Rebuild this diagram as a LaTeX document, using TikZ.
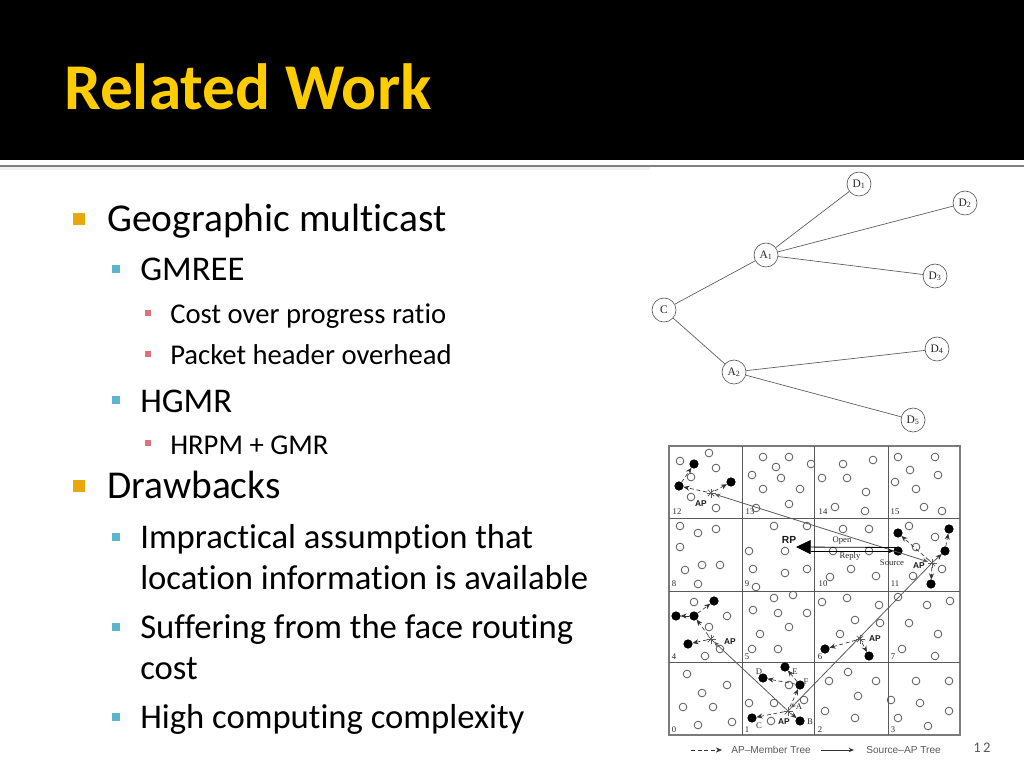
\documentclass[tikz,border=0pt]{standalone}
\usepackage{fontspec}
\setmainfont[Ligatures=NoCommon]{Carlito}
\newfontfamily\figserif{Liberation Serif}
\newfontfamily\figsans{Liberation Sans}
\usetikzlibrary{arrows.meta}
\definecolor{titlegold}{HTML}{FFCC00}
\definecolor{bulamber}{HTML}{E8A80C}
\definecolor{bulblue}{HTML}{5BB5CC}
\definecolor{bulpink}{HTML}{E0707C}
\definecolor{figgray}{HTML}{5A5A5A}
\tikzset{
  titletext/.style={anchor=base west,inner sep=0pt,text=titlegold,font=\fontsize{49}{58}\selectfont\bfseries},
  lvlone/.style={anchor=base west,inner sep=0pt,font=\fontsize{29.6}{34}\selectfont},
  lvltwo/.style={anchor=base west,inner sep=0pt,font=\fontsize{26}{30}\selectfont},
  lvlthree/.style={anchor=base west,inner sep=0pt,font=\fontsize{21.5}{26}\selectfont},
  bulone/.style={inner sep=0pt,minimum size=9pt,fill=bulamber},
  bultwo/.style={inner sep=0pt,minimum size=6.6pt,fill=bulblue},
  bulthree/.style={inner sep=0pt,minimum size=4.6pt,fill=bulpink},
  treenode/.style={circle,draw=figgray,line width=0.5pt,fill=white,inner sep=0pt,minimum size=18pt,
    text=black!85,font=\figserif\fontsize{8.6}{9}\selectfont},
  opencirc/.style={circle,draw=figgray,line width=0.6pt,inner sep=0pt,minimum size=5.8pt},
  member/.style={circle,fill=black,inner sep=0pt,minimum size=6.4pt},
  apnode/.style={circle,inner sep=0pt,minimum size=6pt},
  cellnum/.style={inner sep=0pt,text=black!85,font=\figserif\fontsize{6.5}{7}\selectfont},
  aplabel/.style={inner sep=0pt,text=black!90,font=\figsans\bfseries\fontsize{6.3}{7}\selectfont},
  memberarrow/.style={densely dashed,draw=black!80,line width=0.5pt,-{Stealth[length=4.6pt,width=3.8pt]}},
  sourcearrow/.style={draw=figgray,line width=0.6pt},
  legendtext/.style={anchor=west,inner sep=0pt,text=figgray,font=\figsans\fontsize{7.6}{9}\selectfont}
}
% Star mark of an access point
\newcommand{\apmark}[1]{
  \foreach \ang in {0,45,90,135}
    \draw[figgray,line width=0.6pt,dash pattern=on 1pt off 0.5pt] ([shift={(\ang:4.5)}]#1.center) -- ([shift={(\ang+180:4.5)}]#1.center);
}
\begin{document}
\begin{tikzpicture}[x=0.75pt,y=-0.75pt]
  \useasboundingbox (0,0) rectangle (1024,768);
  % Header band
  \fill[black] (0,0) rectangle (1024,160);
  \fill[black!5] (0,167) rectangle (650,170);
  \fill[black!50] (0,164.8) rectangle (1024,167.4);
  \node[titletext] (title) at (64,109) {Related Work};
  %
  % Bullets
  \node[bulone] (b1) at (79,219) {};
  \node[bultwo] (b2) at (116,269) {};
  \node[bulthree] (b3) at (148,313) {};
  \node[bulthree] (b4) at (148,354) {};
  \node[bultwo] (b5) at (116,400) {};
  \node[bulthree] (b6) at (148,443) {};
  \node[bulone] (b7) at (79,486) {};
  \node[bultwo] (b8) at (116,537) {};
  \node[bultwo] (b9) at (116,627) {};
  \node[bultwo] (b10) at (116,717) {};
  % Body text
  \node[lvlone] (t1) at (107,231) {Geographic multicast};
  \node[lvltwo] (t2) at (140,280) {GMREE};
  \node[lvlthree] (t3) at (170,323) {Cost over progress ratio};
  \node[lvlthree] (t4) at (170,364) {Packet header overhead};
  \node[lvltwo] (t5) at (140,412) {HGMR};
  \node[lvlthree] (t6) at (170,454) {HRPM + GMR};
  \node[lvlone] (t7) at (107,498) {Drawbacks};
  \node[lvltwo] (t8) at (140,548) {Impractical assumption that};
  \node[lvltwo] (t9) at (140,589) {location information is available};
  \node[lvltwo] (t10) at (140,638) {Suffering from the face routing};
  \node[lvltwo] (t11) at (140,679) {cost};
  \node[lvltwo] (t12) at (140,728) {High computing complexity};
  %
  % Tree
  \node[treenode] (C) at (664,310) {C};
  \node[treenode] (A1) at (766,255) {A\textsubscript{1}};
  \node[treenode] (A2) at (734,372) {A\textsubscript{2}};
  \node[treenode] (D1) at (859,184) {D\textsubscript{1}};
  \node[treenode] (D2) at (965,203) {D\textsubscript{2}};
  \node[treenode] (D3) at (935,276) {D\textsubscript{3}};
  \node[treenode] (D4) at (937,349) {D\textsubscript{4}};
  \node[treenode] (D5) at (913,420) {D\textsubscript{5}};
  \foreach \from/\to in {C/A1,C/A2,A1/D1,A1/D2,A1/D3,A2/D4,A2/D5}
    \draw[figgray,line width=0.5pt] (\from) -- (\to);
  %
  % Grid
  \draw[figgray!80,line width=0.9pt] (669,446) rectangle (960,735);
  \foreach \gx in {742,814,888}
    \draw[figgray,line width=0.6pt] (\gx,446) -- (\gx,735);
  \foreach \gy in {518,591,662}
    \draw[figgray,line width=0.6pt] (669,\gy) -- (960,\gy);
  % Cell numbers
  \foreach \cx/\cy/\num in {674/730/0,747/730/1,820/730/2,893/730/3,
    674/657/4,747/657/5,820/657/6,893/657/7,
    674/584/8,747/584/9,823/584/10,895/584/11,
    677/512/12,750/512/13,823/512/14,895/512/15}
    \node[cellnum] (n\num) at (\cx,\cy) {\num};
  % Open circles
  \foreach \ox/\oy [count=\oi] in {709/453,680/461,716/468,691/477,691/497,716/508,
    763/457,789/457,811/464,776/467,752/475,781/478,763/489,800/489,789/504,756/508,
    680/526,698/533,716/529,680/547,685/570,702/565,720/565,698/584,
    774/526,807/526,749/551,785/551,753/569,785/573,807/569,756/587,
    843/464,873/460,822/478,847/478,866/492,835/507,865/511,
    898/457,935/457,910/470,938/475,895/482,916/489,924/507,942/511,
    843/529,869/529,833/551,869/551,851/569,876/576,830/577,
    909/526,935/537,916/547,942/569,913/576,898/597,
    694/602,727/616,709/627,720/649,705/656,
    774/598,793/595,753/610,778/613,807/613,789/627,760/634,778/649,752/649,
    687/674,727/685,702/693,683/707,713/707,698/725,732/722,
    789/685,749/703,774/703,804/700,771/721,
    822/602,847/598,879/605,855/620,880/623,840/634,
    927/605,950/601,909/623,938/634,902/649,935/656,
    848/672,829/681,876/681,858/696,825/711,855/718,
    916/681,949/681,891/700,920/703,949/711,898/718,928/726}
    \node[opencirc] (o\oi) at (\ox,\oy) {};
  % Access points
  \node[apnode] (ap12) at (711,493) {};
  \node[apnode] (ap11) at (932,563) {};
  \node[apnode] (ap4) at (711,639) {};
  \node[apnode] (ap6) at (860,639) {};
  \node[apnode] (ap1) at (788,711) {};
  \foreach \apn in {ap12,ap11,ap4,ap6,ap1}
    \apmark{\apn}
  % Members
  \foreach \mname/\mx/\my in {ma/679/486,mb/694/464,mc/731/482,
    md/898/533,source/898/551,me/949/529,mf/945/551,mg/931/584,
    mh/714/601,mi/676/616,mj/694/616,mk/688/644,
    ml/825/649,mm/869/656,
    mD/763/678,mE/785/667,mF/800/685,mC/752/718,mB/800/721}
    \node[member] (\mname) at (\mx,\my) {};
  % AP to member arrows
  \foreach \from/\to in {ap12/ma,ma/mb,ap12/mc,
    ap11/md,ap11/mf,mf/me,ap11/mg,
    ap4/mj,mj/mh,mj/mi,ap4/mk,
    ap6/ml,ap6/mm,
    ap1/mF,mF/mD,mF/mE,ap1/mC,ap1/mB}
    \draw[memberarrow] (\from) -- (\to);
  % Source to AP lines
  \draw[sourcearrow,{Stealth[length=4pt,width=3.4pt]}-{Stealth[length=4pt,width=3.4pt]}] (ap12) -- (ap11);
  \draw[sourcearrow,-{Stealth[length=4pt,width=3.4pt]}] (ap11) -- (ap1);
  \draw[sourcearrow,-{Stealth[length=4pt,width=3.4pt]}] (ap1) -- (ap4);
  % Open and Reply
  \coordinate (rptip) at (796,547);
  \coordinate (replystart) at (811,551);
  \coordinate (openstart) at (898,547.5);
  \draw[black,line width=0.6pt,-{Triangle[length=11pt,width=10.5pt]}] (openstart) -- (rptip);
  \draw[black,line width=0.6pt,-{Stealth[length=4pt,width=3.4pt]}] (replystart) -- (source);
  % Labels
  \node[aplabel] (ap12lab) at (701,504) {AP};
  \node[aplabel] (ap11lab) at (919,566) {AP};
  \node[aplabel] (ap4lab) at (730,642) {AP};
  \node[aplabel] (ap6lab) at (875,638.5) {AP};
  \node[aplabel] (ap1lab) at (784,722) {AP};
  \node[aplabel,font=\figsans\bfseries\fontsize{7.7}{9}\selectfont] (rplab) at (789,540) {RP};
  \node[cellnum] (openlab) at (842,541) {Open};
  \node[cellnum] (replylab) at (850,556) {Reply};
  \node[cellnum] (sourcelab) at (892,563) {Source};
  \foreach \lx/\ly/\lab in {759/672/D,795/672/E,806/682/F,799/707/A,759/726/C,810/722/B}
    \node[cellnum] (lab\lab) at (\lx,\ly) {\lab};
  % Legend
  \coordinate (legastart) at (691,750);
  \coordinate (legaend) at (722,750);
  \coordinate (legbstart) at (821,750);
  \coordinate (legbend) at (854,750);
  \draw[memberarrow] (legastart) -- (legaend);
  \draw[black!80,line width=0.5pt,-{Stealth[length=4pt,width=3.2pt]}] (legbstart) -- (legbend);
  \node[legendtext] (lega) at (731,750) {AP–Member Tree};
  \node[legendtext] (legb) at (866,750) {Source–AP Tree};
  %
  % Slide number
  \node[inner sep=0pt,text=figgray,font=\fontsize{11}{13}\selectfont] (pagenum) at (982,748) {1\,2};
\end{tikzpicture}
\end{document}
